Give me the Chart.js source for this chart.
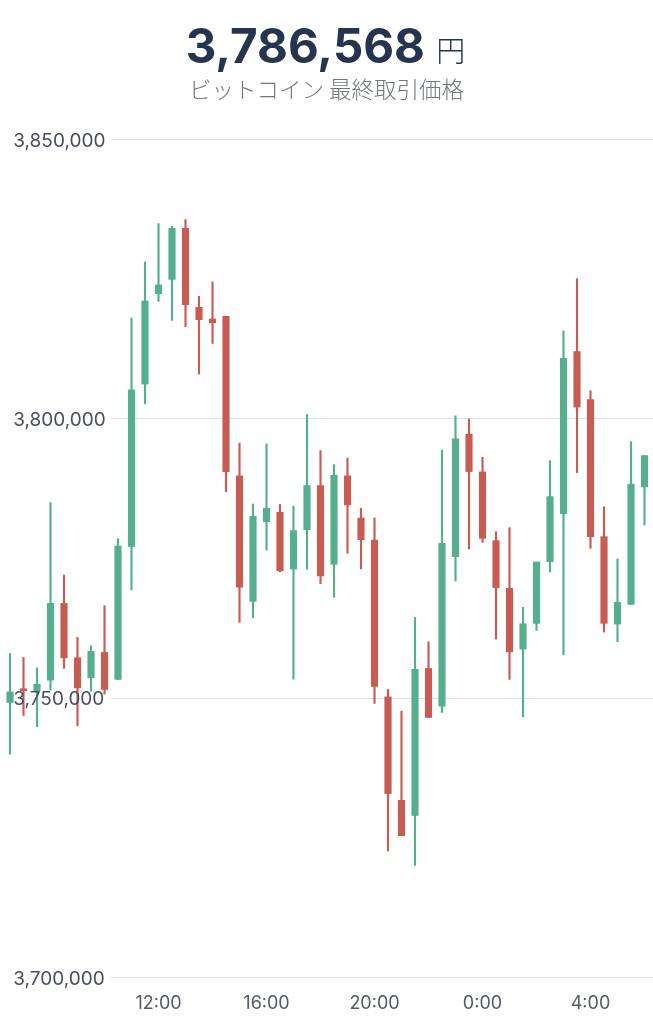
<!DOCTYPE html>
<html lang="ja">
<head>
<meta charset="utf-8">
<title>ビットコイン 最終取引価格</title>
<script src="https://cdn.jsdelivr.net/npm/chart.js@4"></script>
<style>
  html, body { margin: 0; background: #fff; }
  #wrap { position: relative; width: 653px; height: 1024px; overflow: hidden; }
  #price { position: absolute; top: 13px; left: -1px; width: 653px; text-align: center; color: #27344f;
           font: 700 47.5px/66px Inter, sans-serif; }
  #price span { font: 300 29px "Noto Sans CJK JP", sans-serif; margin-left: 0; position: relative; top: -1px; }
  #sub { position: absolute; top: 72px; left: 0; width: 653px; text-align: center; color: #72777f;
         font: 300 22.5px/32px "Noto Sans CJK JP", sans-serif; }
  canvas { position: absolute; top: 0; left: 0; }
</style>
</head>
<body>
<div id="wrap">
  <canvas id="candles" width="653" height="1024"></canvas>
  <div id="price">3,786,568 <span>円</span></div>
  <div id="sub">ビットコイン 最終取引価格</div>
</div>
<script>
// 30 minute candles
const times = ['6:30','7:00','7:30','8:00','8:30','9:00','9:30','10:00','10:30','11:00','11:30','12:00',
  '12:30','13:00','13:30','14:00','14:30','15:00','15:30','16:00','16:30','17:00','17:30','18:00',
  '18:30','19:00','19:30','20:00','20:30','21:00','21:30','22:00','22:30','23:00','23:30','0:00',
  '0:30','1:00','1:30','2:00','2:30','3:00','3:30','4:00','4:30','5:00','5:30','6:00'];

const opens = [3749140,3751600,3751220,3753140,3766880,3757130,3753550,3758100,3753260,3777060,3806130,3822310,
  3824870,3834010,3819860,3817780,3818280,3789700,3767240,3781510,3783190,3773030,3780070,3787960,
  3773870,3789700,3782170,3778230,3750140,3731630,3728940,3755230,3748480,3775230,3797170,3790410,
  3778100,3769570,3758690,3763300,3774340,3782940,3811970,3803370,3778820,3763170,3766700,3787720];

const closes = [3751040,3751250,3752420,3766880,3757130,3751760,3758280,3751470,3777150,3805110,3821000,3823870,
  3834010,3820340,3817650,3817110,3790470,3769800,3782470,3783910,3772720,3779890,3787960,3771770,
  3789820,3784500,3778280,3752010,3732830,3725300,3755050,3746450,3777630,3796330,3790470,3778530,
  3769680,3758210,3763230,3774280,3785990,3810720,3802010,3778820,3763300,3767060,3788210,3793330];

const highs = [3757920,3757210,3755340,3784910,3771950,3760790,3759280,3766450,3778460,3817960,3827990,3834860,
  3834370,3835570,3821830,3824410,3818280,3795560,3784680,3795430,3784620,3784270,3800680,3794230,
  3791720,3792870,3783910,3782170,3751470,3747580,3764370,3760000,3794300,3800450,3799910,3793050,
  3779710,3780430,3766170,3774280,3792440,3815680,3825000,3804930,3784190,3774820,3795840,3793330];

const lows = [3739880,3746810,3744770,3751350,3755230,3744950,3751170,3750630,3753260,3769270,3802600,3820930,
  3817530,3816400,3807920,3813400,3786880,3763480,3764300,3776430,3772550,3753320,3772980,3770400,
  3767960,3775840,3773030,3748960,3722550,3725300,3719980,3746450,3747350,3770880,3776610,3777810,
  3760480,3753260,3746560,3762040,3772490,3757670,3790290,3776740,3761740,3760000,3766700,3780910];

const timeTicks = ['12:00', '16:00', '20:00', '0:00', '4:00'];
const priceMin = 3700000, priceMax = 3850000, priceStep = 50000;

const UP = '#55ae8d', DOWN = '#c75d52';
const candleColor = ctx => closes[ctx.dataIndex] >= opens[ctx.dataIndex] ? UP : DOWN;

// Grid lines stop short of the price labels, so draw them from the y scale here
const shortGrid = {
  id: 'shortGrid',
  beforeDatasetsDraw(chart) {
    const { ctx, scales: { y } } = chart;
    ctx.save();
    ctx.strokeStyle = '#e2e3e5';
    ctx.lineWidth = 1;
    y.ticks.forEach(t => {
      const py = Math.round(y.getPixelForValue(t.value)) + 0.5;
      ctx.beginPath();
      ctx.moveTo(111, py);
      ctx.lineTo(chart.width, py);
      ctx.stroke();
    });
    ctx.restore();
  },
};

new Chart(document.getElementById('candles'), {
  type: 'bar',
  plugins: [shortGrid],
  data: {
    labels: times,
    datasets: [
      {
        label: 'body',
        data: opens.map((o, i) => [o, closes[i]]),
        backgroundColor: candleColor,
        barThickness: 6.5,
        grouped: false,
        clip: false,
      },
      {
        label: 'wick',
        data: lows.map((l, i) => [l, highs[i]]),
        backgroundColor: candleColor,
        barThickness: 1.5,
        grouped: false,
        clip: false,
      },
    ],
  },
  options: {
    responsive: false,
    animation: false,
    layout: { padding: { top: 139, left: 3.25, right: 1.75, bottom: 0 } },
    plugins: { legend: { display: false }, tooltip: { enabled: false } },
    scales: {
      x: {
        grid: { display: false },
        border: { display: false },
        afterFit: s => { s.height = 47; },
        ticks: {
          autoSkip: false,
          maxRotation: 0,
          padding: 8,
          color: '#555a66',
          font: { family: 'Inter', size: 18 },
          callback(v) {
            const t = this.getLabelForValue(v);
            return timeTicks.includes(t) ? t : '';
          },
        },
      },
      y: {
        min: priceMin,
        max: priceMax,
        grid: { display: false },
        border: { display: false },
        afterFit: s => { s.width = 0; },
        ticks: {
          stepSize: priceStep,
          mirror: true,
          padding: 10,
          labelOffset: 2,
          z: 1,
          color: '#4a4f5c',
          font: { family: 'Inter', size: 19 },
          callback: v => v.toLocaleString('en-US'),
        },
      },
    },
  },
});
</script>
</body>
</html>
